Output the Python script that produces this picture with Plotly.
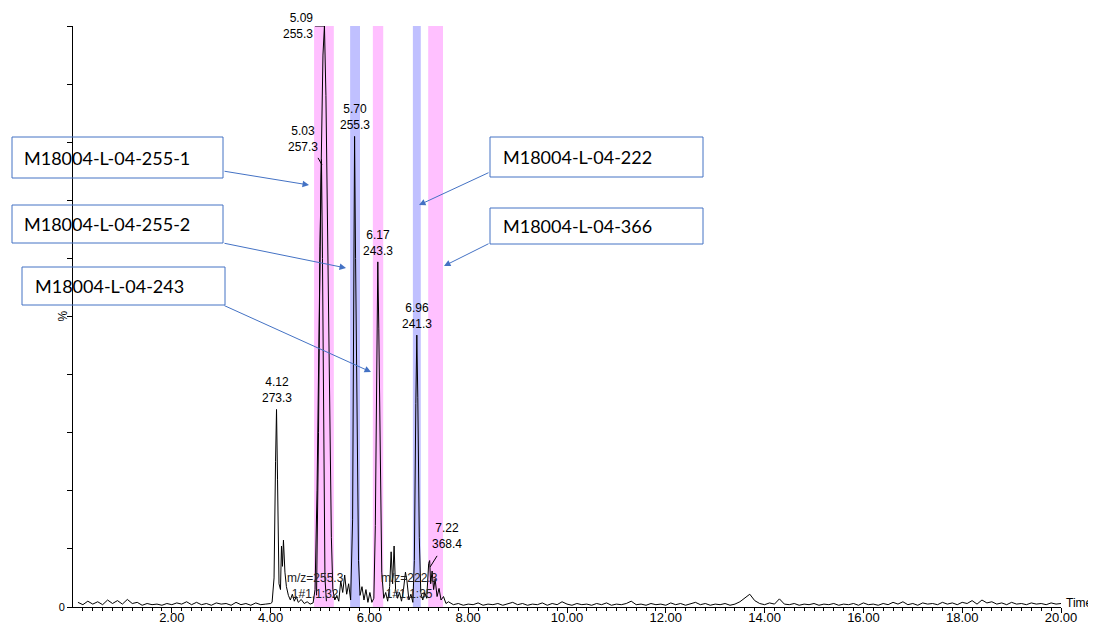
import plotly.graph_objects as go

# ---------------- data ----------------
early_t = [0.1, 0.2, 0.3, 0.4, 0.5, 0.6, 0.7, 0.8, 0.9, 1.0,
           1.1, 1.2, 1.3, 1.4, 1.5, 1.6, 1.7, 1.8, 1.9, 2.0,
           2.1, 2.2, 2.3, 2.4, 2.5, 2.6, 2.7, 2.8, 2.9, 3.0,
           3.1, 3.2, 3.3, 3.4, 3.5, 3.6, 3.7, 3.8, 3.9, 4.0]
early_pct = [0.8, 0.4, 1.0, 0.5, 0.9, 0.4, 1.2, 0.6, 1.1, 0.5,
             1.3, 0.6, 0.8, 0.3, 0.6, 0.4, 0.5, 0.3, 0.6, 0.4,
             0.7, 0.5, 0.9, 0.4, 0.8, 0.4, 0.6, 0.3, 0.7, 0.5,
             0.6, 0.3, 0.8, 0.4, 0.6, 0.3, 0.7, 0.4, 0.5, 0.6]

peak_t = [4.03, 4.07, 4.10, 4.12, 4.14, 4.17, 4.20, 4.22, 4.24, 4.26, 4.29, 4.32, 4.36, 4.40,
          4.44, 4.48, 4.52, 4.56, 4.62, 4.68, 4.74, 4.80, 4.86,
          4.90, 4.94, 4.98, 5.02, 5.06, 5.09, 5.12, 5.15, 5.19, 5.23, 5.26, 5.30, 5.34, 5.38,
          5.42, 5.46, 5.50, 5.54, 5.58, 5.62,
          5.66, 5.68, 5.70, 5.72, 5.75, 5.78, 5.81, 5.85, 5.89, 5.93, 5.97, 6.01, 6.05, 6.09,
          6.12, 6.15, 6.17, 6.19, 6.22, 6.25, 6.29, 6.33, 6.37, 6.41, 6.44, 6.47, 6.50, 6.53,
          6.57, 6.61, 6.65, 6.69, 6.73, 6.76, 6.80, 6.84, 6.88,
          6.91, 6.94, 6.96, 6.98, 7.01, 7.04, 7.08, 7.12, 7.16,
          7.20, 7.22, 7.24, 7.27, 7.30, 7.33, 7.37, 7.41, 7.45, 7.50, 7.55, 7.60]
peak_pct = [0.8, 5, 25, 34, 22, 4, 3, 10.5, 7, 11.5, 6, 3.5, 2, 1.2,
            2.2, 1.0, 1.8, 0.8, 1.3, 0.6, 0.9, 0.5, 0.7,
            3, 20, 50, 74, 95, 100, 88, 65, 38, 12, 3, 1.2, 2, 1,
            4.5, 2.5, 5.5, 2.2, 4, 1.2,
            15, 45, 81, 60, 28, 8, 2, 3.5, 1.2, 3, 0.8, 2.5, 0.8, 1.5,
            14, 45, 59.4, 48, 22, 6, 1.5, 2.5, 1, 3.5, 9.5, 4, 10.5, 3,
            1.5, 2.5, 1, 3, 6, 4.5, 1.2, 2.2, 0.8,
            8, 35, 46.8, 36, 12, 2.5, 1.2, 2.5, 1.5,
            7.5, 8, 4, 6.2, 3, 4.8, 1.8, 3.2, 1.2, 1.8, 0.6, 0.9]

late_t = [7.7, 7.8, 7.9, 8.0, 8.1, 8.2, 8.3, 8.4, 8.5, 8.6,
          8.7, 8.8, 8.9, 9.0, 9.1, 9.2, 9.3, 9.4, 9.5, 9.6,
          9.7, 9.8, 9.9, 10.0, 10.1, 10.2, 10.3, 10.4, 10.5, 10.6,
          10.7, 10.8, 10.9, 11.0, 11.1, 11.2, 11.3, 11.4, 11.5, 11.6,
          11.7, 11.8, 11.9, 12.0, 12.1, 12.2, 12.3, 12.4, 12.5, 12.6,
          12.7, 12.8, 12.9, 13.0, 13.1, 13.2, 13.3, 13.4, 13.5, 13.6,
          13.7, 13.8, 13.9, 14.0, 14.1, 14.2, 14.3, 14.4, 14.5, 14.6,
          14.7, 14.8, 14.9, 15.0, 15.1, 15.2, 15.3, 15.4, 15.5, 15.6,
          15.7, 15.8, 15.9, 16.0, 16.1, 16.2, 16.3, 16.4, 16.5, 16.6,
          16.7, 16.8, 16.9, 17.0, 17.1, 17.2, 17.3, 17.4, 17.5, 17.6,
          17.7, 17.8, 17.9, 18.0, 18.1, 18.2, 18.3, 18.4, 18.5, 18.6,
          18.7, 18.8, 18.9, 19.0, 19.1, 19.2, 19.3, 19.4, 19.5, 19.6,
          19.7, 19.8, 19.9, 20.0]
late_pct = [0.4, 0.6, 0.3, 0.5, 0.4, 0.7, 0.3, 0.5, 0.4, 0.6,
            0.3, 0.5, 0.8, 0.4, 0.6, 0.3, 0.5, 0.4, 0.7, 0.3,
            0.6, 0.4, 0.9, 0.5, 0.3, 0.6, 0.4, 0.5, 0.3, 0.6,
            0.4, 0.7, 0.3, 0.5, 0.4, 0.6, 1.0, 0.4, 0.5, 0.3,
            0.6, 0.4, 0.5, 0.3, 0.7, 0.4, 0.6, 0.3, 0.5, 0.8,
            0.4, 0.6, 0.3, 0.5, 0.4, 0.6, 0.3, 0.5, 0.9, 1.6,
            2.2, 1.1, 0.6, 0.4, 0.7, 0.5, 1.4, 0.5, 0.4, 0.6,
            0.3, 0.5, 0.4, 0.6, 0.3, 0.5, 0.4, 0.6, 0.3, 0.5,
            0.4, 0.6, 0.3, 0.7, 0.4, 0.5, 0.3, 0.6, 0.4, 0.8,
            0.5, 0.9, 0.4, 0.6, 0.3, 0.7, 0.5, 0.6, 0.4, 0.8,
            0.5, 0.7, 0.4, 0.8, 0.6, 1.1, 0.5, 1.2, 0.7, 0.9,
            0.5, 0.7, 0.4, 0.8, 0.5, 0.6, 0.4, 0.7, 0.5, 0.6,
            0.4, 0.7, 0.5, 0.6]

# overlaid trace for the 5.03 peak (m/z 257.3)
over_t = [4.93, 4.97, 5.00, 5.03, 5.05, 5.07, 5.10, 5.13]
over_pct = [2, 30, 62, 77, 60, 30, 5, 1]

# peak labels: retention time, m/z, apex height
label_rt = ["4.12", "5.70", "6.17", "6.96"]
label_mz = ["273.3", "255.3", "243.3", "241.3"]
label_x = [4.12, 5.71, 6.17, 6.96]
label_y = [34, 81, 59.4, 46.8]

# shaded windows (start, end, colour kind)
band_start = [4.88, 5.61, 6.07, 6.88, 7.19]
band_end = [5.28, 5.81, 6.28, 7.04, 7.49]
band_kind = ["pink", "blue", "pink", "blue", "pink"]

x_ticks = [2, 4, 6, 8, 10, 12, 14, 16, 18, 20]
x_ticktext = ["2.00", "4.00", "6.00", "8.00", "10.00", "12.00", "14.00", "16.00", "18.00", "20.00"]

box_names = ["M18004-L-04-255-1", "M18004-L-04-255-2", "M18004-L-04-243",
             "M18004-L-04-222", "M18004-L-04-366"]

# ---------------- layout geometry ----------------
W, H = 1096, 624
OFF = 8  # page body margin
L, R, T, B = 73, 1061, 26, 607  # plot area in screen pixels


def px(x):
    return (x - L) / (R - L)


def py(y):
    return (B - y) / (B - T)


time_all = early_t + peak_t + late_t
pct_all = early_pct + peak_pct + late_pct

fig = go.Figure()
fig.add_trace(go.Scatter(x=time_all, y=pct_all, mode="lines",
                         line=dict(color="black", width=1), hoverinfo="skip"))
fig.add_trace(go.Scatter(x=over_t, y=over_pct, mode="lines",
                         line=dict(color="black", width=1), hoverinfo="skip"))

colors = {"pink": "#FFC0FF", "blue": "#C0C0FF"}
shapes = []
for s, e, k in zip(band_start, band_end, band_kind):
    shapes.append(dict(type="rect", xref="x", yref="paper", x0=s, x1=e, y0=0, y1=1,
                       fillcolor=colors[k], line=dict(width=0), layer="below"))

# leader lines for peak labels
leader = dict(color="black", width=1)
shapes.append(dict(type="line", xref="x", yref="y", x0=4.90, x1=5.09, y0=100, y1=100, line=leader))
shapes.append(dict(type="line", xref="x", yref="y", x0=4.96, x1=5.04, y0=77.3, y1=76.1, line=leader))
shapes.append(dict(type="line", xref="x", yref="y", x0=7.37, x1=7.23, y0=8.8, y1=6.9, line=leader))

# label boxes (screen pixel positions)
box_px = [(12, 137, 223, 178), (12, 205, 223, 243), (22, 267, 225, 305),
          (490, 137, 703, 177), (490, 208, 703, 244)]
box_text_x = [22, 22, 33, 501, 501]
for (x0, y0, x1, y1) in box_px:
    shapes.append(dict(type="rect", xref="paper", yref="paper",
                       x0=px(x0), x1=px(x1), y0=py(y1), y1=py(y0),
                       line=dict(color="#4472C4", width=1), fillcolor="rgba(0,0,0,0)", layer="above"))

annotations = []
lab_font = dict(family="Liberation Sans, Arial", size=12, color="black")
for rt, mz, x, y in zip(label_rt, label_mz, label_x, label_y):
    annotations.append(dict(x=x, y=y, xref="x", yref="y", text=f"{rt}<br>{mz}",
                            showarrow=False, yanchor="bottom", xanchor="center",
                            font=lab_font, yshift=2))
annotations.append(dict(x=4.89, y=100, xref="x", yref="y", text="5.09<br>255.3", showarrow=False,
                        xanchor="right", yanchor="middle", font=lab_font, align="right"))
annotations.append(dict(x=4.66, y=77.6, xref="x", yref="y", text="5.03<br>257.3", showarrow=False,
                        xanchor="center", yanchor="bottom", font=lab_font))
annotations.append(dict(x=7.57, y=9.3, xref="x", yref="y", text="7.22<br>368.4", showarrow=False,
                        xanchor="center", yanchor="bottom", font=lab_font))
trace_font = dict(family="Liberation Sans, Arial", size=12, color="#222222")
annotations.append(dict(x=4.90, y=3.6, xref="x", yref="y", text="m/z=255.3<br>1#1,1:32",
                        showarrow=False, xanchor="center", yanchor="middle", font=trace_font))
annotations.append(dict(x=6.81, y=3.6, xref="x", yref="y", text="m/z=222.3<br>1#1,1:35",
                        showarrow=False, xanchor="center", yanchor="middle", font=trace_font))

for name, (x0, y0, x1, y1), tx in zip(box_names, box_px, box_text_x):
    annotations.append(dict(x=px(tx), y=py((y0 + y1) / 2), xref="paper", yref="paper",
                            text=name, showarrow=False, xanchor="left", yanchor="middle",
                            font=dict(family="Lato", size=18, color="black")))

arrows = [((223, 171), (309, 185)), ((223, 243), (346, 268)), ((223, 305), (371, 372)),
          ((490, 172), (419, 205)), ((490, 243), (444, 266))]
for (tx, ty), (hx, hy) in arrows:
    annotations.append(dict(x=px(hx), y=py(hy), xref="paper", yref="paper", text="",
                            showarrow=True, ax=tx - hx, ay=ty - hy, arrowhead=2, arrowsize=1.3,
                            arrowwidth=1, arrowcolor="#4472C4", standoff=0, startstandoff=0))

annotations.append(dict(x=px(1065), y=py(603), xref="paper", yref="paper", text="Time",
                        showarrow=False, xanchor="left", yanchor="middle", borderpad=0,
                        font=dict(family="Liberation Sans, Arial", size=12, color="black")))
annotations.append(dict(x=px(62), y=0.5, xref="paper", yref="paper", text="%",
                        showarrow=False, xanchor="center", yanchor="middle", textangle=-90,
                        font=dict(family="Liberation Sans, Arial", size=12, color="black")))

fig.update_layout(
    width=W, height=H, autosize=False,
    margin=dict(l=L - OFF, r=W - R + OFF, t=T - OFF, b=H - B + OFF, pad=0),
    paper_bgcolor="white", plot_bgcolor="white",
    showlegend=False, shapes=shapes, annotations=annotations,
    xaxis=dict(range=[0, 20], tickmode="array", tickvals=x_ticks, ticktext=x_ticktext,
               ticks="outside", ticklen=5, tickcolor="black", tickwidth=1, automargin=False,
               ticklabelstandoff=-7,
               showline=True, linecolor="black", linewidth=1, showgrid=False, zeroline=False,
               tickfont=dict(family="Liberation Sans, Arial", size=13, color="black"),
               minor=dict(tickmode="array", tickvals=[i / 5 for i in range(1, 100)],
                          ticks="outside", ticklen=3, tickcolor="black", showgrid=False)),
    yaxis=dict(range=[0, 100], tickmode="array", tickvals=[0, 10, 20, 30, 40, 50, 60, 70, 80, 90, 100],
               ticktext=["0", "", "", "", "", "", "", "", "", "", ""], automargin=False,
               ticks="outside", ticklen=5, tickcolor="black", tickwidth=1,
               showline=True, linecolor="black", linewidth=1, showgrid=False, zeroline=False,
               tickfont=dict(family="Liberation Sans, Arial", size=11, color="black")),
)

fig.write_html("out.html")
